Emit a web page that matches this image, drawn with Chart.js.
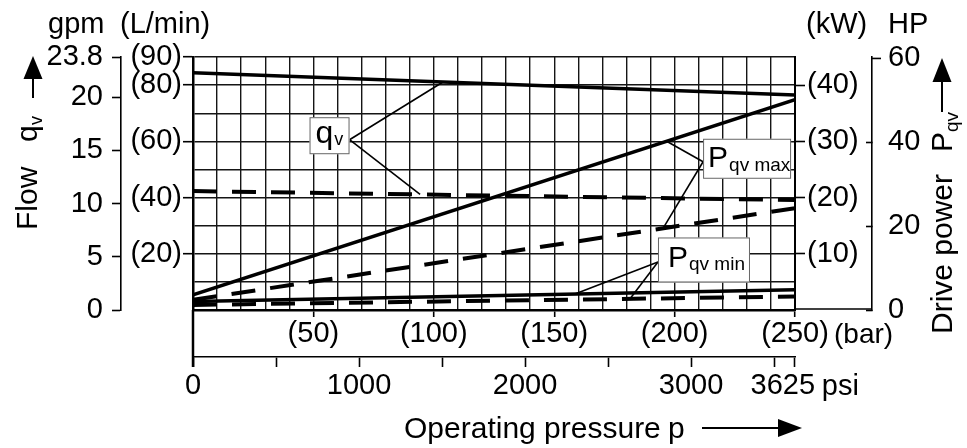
<!DOCTYPE html>
<html><head><meta charset="utf-8">
<script src="https://cdn.jsdelivr.net/npm/chart.js@4/dist/chart.umd.min.js"></script>
<style>html,body{margin:0;padding:0;background:#fff;}canvas{display:block;}</style>
</head><body>
<canvas id="c" width="967" height="448"></canvas>
<script>
// ---- data ----
const pressureBar      = [0, 250];
const flowSolidLmin    = [84.4, 76.5];
const flowDashedLmin   = [42.3, 39.1];
const powerMaxSolidKw  = [2.7, 37.4];
const powerMaxDashedKw = [1.8, 18.1];
const powerMinSolidKw  = [1.5, 3.6];
const powerMinDashedKw = [0.9, 2.4];

// ---- tick labels ----
const barLabelTicks   = [50, 100, 150, 200, 250];
const lminLabelTicks  = [20, 40, 60, 80, 90];
const gpmTickValues   = [0, 5, 10, 15, 20, 23.775];
const gpmTickLabels   = ['0', '5', '10', '15', '20', '23.8'];
const kwTicks         = [10, 20, 30, 40];
const hpTicks         = [0, 20, 40, 60];
const psiTicks        = [0, 500, 1000, 1500, 2000, 2500, 3000, 3500, 3625];
const psiLabelTicks   = [0, 1000, 2000, 3000, 3625];

const LMIN_PER_GPM = 3.78541, KW_PER_HP = 0.7457, PSI_PER_BAR = 14.5038;
const FONT = '"Liberation Sans", Arial, sans-serif';
const tickFont = { family: FONT, size: 29, lineHeight: 1 };
const GRID = '#151515';

const series = {
  flowSolid:  { vals: flowSolidLmin,    axis: 'y',  dashed: false },
  flowDashed: { vals: flowDashedLmin,   axis: 'y',  dashed: true  },
  pMaxSolid:  { vals: powerMaxSolidKw,  axis: 'yk', dashed: false },
  pMaxDashed: { vals: powerMaxDashedKw, axis: 'yk', dashed: true  },
  pMinSolid:  { vals: powerMinSolidKw,  axis: 'yk', dashed: false },
  pMinDashed: { vals: powerMinDashedKw, axis: 'yk', dashed: true  }
};

const datasets = Object.keys(series).map(k => {
  const s = series[k];
  return {
    label: k,
    data: pressureBar.map((x, i) => ({ x, y: s.vals[i] })),
    yAxisID: s.axis,
    borderColor: '#000',
    borderWidth: s.dashed ? 4 : 3.6,
    borderDash: s.dashed ? [24, 15] : [],
    borderCapStyle: 'butt',
    pointRadius: 0,
    tension: 0,
    fill: false
  };
});

// callouts: box centre in data units, leader targets on the series
const callouts = [
  { main: 'q', sub: 'v', axis: 'y', cx: 56.7, cy: 62.0, w: 40, h: 37, side: 'right', dy: 4,
    mainSize: 32, subSize: 18, padL: 6, mainBase: 26, subBase: 28,
    targets: [['flowSolid', 103.8], ['flowDashed', 94.3]] },
  { main: 'P', sub: 'qv max', axis: 'yk', cx: 230.1, cy: 26.9, w: 88, h: 40, side: 'left', dy: 3,
    mainSize: 30, subSize: 19, padL: 5, mainBase: 28, subBase: 32,
    targets: [['pMaxSolid', 196.7], ['pMaxDashed', 195.2]] },
  { main: 'P', sub: 'qv min', axis: 'yk', cx: 212.2, cy: 8.9, w: 92, h: 45, side: 'left', dy: 2,
    mainSize: 30, subSize: 19, padL: 10, mainBase: 30, subBase: 33,
    targets: [['pMinSolid', 158.6], ['pMinDashed', 181.5]] }
];

function valueAt(key, bar) {
  const v = series[key].vals;
  const t = (bar - pressureBar[0]) / (pressureBar[1] - pressureBar[0]);
  return v[0] + (v[1] - v[0]) * t;
}

function arrowUp(ctx, x, tipY, baseY, shaftEnd, halfW) {
  ctx.beginPath(); ctx.moveTo(x, baseY); ctx.lineTo(x, shaftEnd); ctx.stroke();
  ctx.beginPath(); ctx.moveTo(x, tipY); ctx.lineTo(x - halfW, baseY); ctx.lineTo(x + halfW, baseY); ctx.closePath(); ctx.fill();
}

const decor = {
  id: 'decor',
  afterDraw(chart) {
    const { ctx, chartArea: ca, scales } = chart;
    const X = scales.x, X2 = scales.x2;
    ctx.save();
    ctx.fillStyle = '#000'; ctx.strokeStyle = '#000';
    ctx.textBaseline = 'alphabetic';

    // unit labels on top
    ctx.font = `29px ${FONT}`;
    ctx.textAlign = 'left';
    ctx.fillText('gpm', 48, 33);
    ctx.fillText('(L/min)', 120, 33);
    ctx.fillText('(kW)', 806, 33);
    ctx.fillText('HP', 888, 33);

    // bottom unit labels
    ctx.font = `28px ${FONT}`;
    ctx.fillText('(bar)', X.getPixelForValue(250) + 39, 343);
    ctx.font = `29px ${FONT}`;
    ctx.fillText('psi', X2.getPixelForValue(3625) + 27, 395);

    // left edge continues down to psi axis
    ctx.lineWidth = 2.5;
    ctx.beginPath(); ctx.moveTo(ca.left, ca.bottom); ctx.lineTo(ca.left, X2.top + 10); ctx.stroke();
    // HP axis: top stub and base line
    ctx.lineWidth = 1.6;
    const hp = scales.yh;
    ctx.beginPath(); ctx.moveTo(hp.left, hp.getPixelForValue(60)); ctx.lineTo(hp.left + 9, hp.getPixelForValue(60)); ctx.stroke();
    ctx.beginPath(); ctx.moveTo(ca.right, hp.getPixelForValue(0) - 1); ctx.lineTo(hp.left, hp.getPixelForValue(0) - 1); ctx.stroke();

    // left title (rotated)
    ctx.save();
    ctx.translate(37, 230); ctx.rotate(-Math.PI / 2);
    ctx.font = `30px ${FONT}`; ctx.textAlign = 'left';
    ctx.fillText('Flow', 0, 0);
    ctx.fillText('q', 88, 0);
    ctx.font = `18px ${FONT}`;
    ctx.fillText('v', 105, 5);
    ctx.restore();
    ctx.lineWidth = 2;
    arrowUp(ctx, 33, 56, 79, 98, 9.5);

    // right title (rotated)
    ctx.save();
    ctx.translate(952, 334); ctx.rotate(-Math.PI / 2);
    ctx.font = `30px ${FONT}`; ctx.textAlign = 'left';
    ctx.fillText('Drive power', 0, 0);
    ctx.fillText('P', 182, 0);
    ctx.font = `19px ${FONT}`;
    ctx.fillText('qv', 202, 6);
    ctx.restore();
    arrowUp(ctx, 942, 58, 82, 112, 9.5);

    // bottom title
    ctx.font = `30px ${FONT}`; ctx.textAlign = 'left';
    ctx.fillText('Operating pressure', 404, 438);
    ctx.fillText('p', 668, 438);
    ctx.beginPath(); ctx.moveTo(702, 428); ctx.lineTo(780, 428); ctx.stroke();
    ctx.beginPath(); ctx.moveTo(802, 428); ctx.lineTo(778, 419); ctx.lineTo(778, 437); ctx.closePath(); ctx.fill();

    // callouts
    callouts.forEach(c => {
      const ys = scales[c.axis];
      const cx = X.getPixelForValue(c.cx), cy = ys.getPixelForValue(c.cy);
      const left = cx - c.w / 2, top = cy - c.h / 2;
      const sx = c.side === 'right' ? left + c.w : left;
      const sy = cy + c.dy;
      ctx.lineWidth = 1.6; ctx.strokeStyle = '#000';
      c.targets.forEach(([key, bar]) => {
        const ts = scales[series[key].axis];
        ctx.beginPath(); ctx.moveTo(sx, sy);
        ctx.lineTo(X.getPixelForValue(bar), ts.getPixelForValue(valueAt(key, bar)));
        ctx.stroke();
      });
      ctx.fillStyle = '#fff';
      ctx.fillRect(left, top, c.w, c.h);
      ctx.lineWidth = 1; ctx.strokeStyle = '#666';
      ctx.strokeRect(left + 0.5, top + 0.5, c.w - 1, c.h - 1);
      ctx.fillStyle = '#000';
      ctx.font = `${c.mainSize}px ${FONT}`;
      ctx.fillText(c.main, left + c.padL, top + c.mainBase);
      const mw = ctx.measureText(c.main).width;
      ctx.font = `${c.subSize}px ${FONT}`;
      ctx.fillText(c.sub, left + c.padL + mw + 1, top + c.subBase);
    });
    ctx.restore();
  }
};

new Chart(document.getElementById('c'), {
  type: 'line',
  data: { datasets },
  options: {
    responsive: false, animation: false, devicePixelRatio: 1,
    layout: { padding: { top: 57, left: 0, right: 0, bottom: 0 } },
    plugins: { legend: { display: false }, tooltip: { enabled: false } },
    scales: {
      x: {
        type: 'linear', position: 'bottom', weight: 0, min: 0, max: 250,
        ticks: { stepSize: 10, autoSkip: false, maxRotation: 0, minRotation: 0, font: tickFont, color: '#000', padding: 2,
          callback: v => barLabelTicks.includes(v) ? `(${v})` : '' },
        grid: { color: GRID, lineWidth: 1.4, tickLength: 7, tickWidth: 1.6,
          tickColor: c => (c.tick && barLabelTicks.includes(c.tick.value)) ? '#000' : 'rgba(0,0,0,0)' },
        border: { color: '#000', width: 2.5 },
        afterFit: s => { s.height = 47; }
      },
      x2: {
        type: 'linear', position: 'bottom', weight: 1, min: 0, max: 250 * PSI_PER_BAR,
        afterBuildTicks: s => { s.ticks = psiTicks.map(v => ({ value: v })); },
        ticks: { autoSkip: false, maxRotation: 0, minRotation: 0, font: tickFont, color: '#000', padding: 4,
          callback: v => psiLabelTicks.includes(v) ? (v === 3625 ? '3625   ' : String(v)) : '' },
        grid: { drawOnChartArea: false, tickLength: 10, tickWidth: 1.6, color: '#000' },
        border: { color: '#000', width: 1.6 },
        afterFit: s => { s.height = 91; }
      },
      y: {
        type: 'linear', position: 'left', weight: 0, min: 0, max: 90,
        ticks: { stepSize: 10, autoSkip: false, font: tickFont, color: '#000', padding: 1,
          callback: v => lminLabelTicks.includes(v) ? `(${v})` : '' },
        grid: { color: GRID, lineWidth: 1.4, tickLength: 10, tickWidth: 1.6,
          tickColor: c => (c.tick && lminLabelTicks.includes(c.tick.value)) ? '#000' : 'rgba(0,0,0,0)' },
        border: { color: '#000', width: 2.5 },
        afterFit: s => { s.width = 72; }
      },
      yg: {
        type: 'linear', position: 'left', weight: 1, min: 0, max: 90 / LMIN_PER_GPM,
        afterBuildTicks: s => { s.ticks = gpmTickValues.map(v => ({ value: v })); },
        ticks: { autoSkip: false, font: tickFont, color: '#000', padding: 9,
          callback: (v, i) => gpmTickLabels[i] },
        grid: { drawOnChartArea: false, tickLength: 9, tickWidth: 1.6, color: '#000' },
        border: { color: '#000', width: 1.6 },
        afterFit: s => { s.width = 121; }
      },
      yk: {
        type: 'linear', position: 'right', weight: 0, min: 0, max: 45,
        afterBuildTicks: s => { s.ticks = kwTicks.map(v => ({ value: v })); },
        ticks: { autoSkip: false, font: tickFont, color: '#000', padding: 2,
          callback: v => `(${v})` },
        grid: { drawOnChartArea: false, tickLength: 10, tickWidth: 1.6, color: '#000' },
        border: { color: '#000', width: 2 },
        afterFit: s => { s.width = 77; }
      },
      yh: {
        type: 'linear', position: 'right', weight: 1, min: 0, max: 45 / KW_PER_HP,
        afterBuildTicks: s => { s.ticks = hpTicks.map(v => ({ value: v })); },
        ticks: { autoSkip: false, font: tickFont, color: '#000', padding: 22,
          callback: v => String(v) },
        grid: { drawOnChartArea: false, tickLength: -6, tickWidth: 1.6,
          tickColor: c => (c.tick && c.tick.value === 60) ? 'rgba(0,0,0,0)' : '#000' },
        border: { color: '#000', width: 1.6 },
        afterFit: s => { s.width = 95; }
      }
    }
  },
  plugins: [decor]
});
</script>
</body></html>
